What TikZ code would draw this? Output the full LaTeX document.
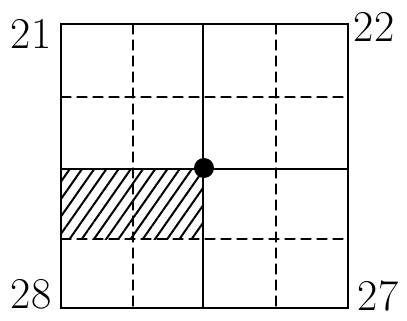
\documentclass[tikz,border=0pt]{standalone}
\usetikzlibrary{patterns.meta}

\begin{document}
\begin{tikzpicture}[x=1pt, y=-1pt, line cap=round]
  \tikzset{
    frame/.style    ={draw=black, line width=1.8pt},
    solidline/.style={draw=black, line width=1.2pt},
    dashline/.style ={draw=black, line width=1.2pt, dash pattern=on 10pt off 6pt},
    corner/.style   ={font=\fontsize{44}{46}\selectfont, inner sep=0pt},
  }
  \useasboundingbox (0,0) rectangle (407,321);
  % hatched block
  \fill[pattern={Lines[angle=55, distance=10pt, line width=2pt]}] (61,169) rectangle (203,239);
  % grid
  \draw[dashline] (133,24) -- (133,308);
  \draw[dashline] (276,24) -- (276,308);
  \draw[dashline] (61,97) -- (348,97);
  \draw[dashline] (61,239) -- (348,239);
  \draw[solidline] (203,24) -- (203,308);
  \draw[solidline] (61,169) -- (348,169);
  \draw[frame] (61,24) rectangle (348,308);
  \fill (204,168) circle (10pt);
  % corner numbers
  \node[corner] (c21) at (31,34) {21};
  \node[corner] (c22) at (374,27) {22};
  \node[corner] (c28) at (31,294) {28};
  \node[corner] (c27) at (378,296) {27};
\end{tikzpicture}
\end{document}
